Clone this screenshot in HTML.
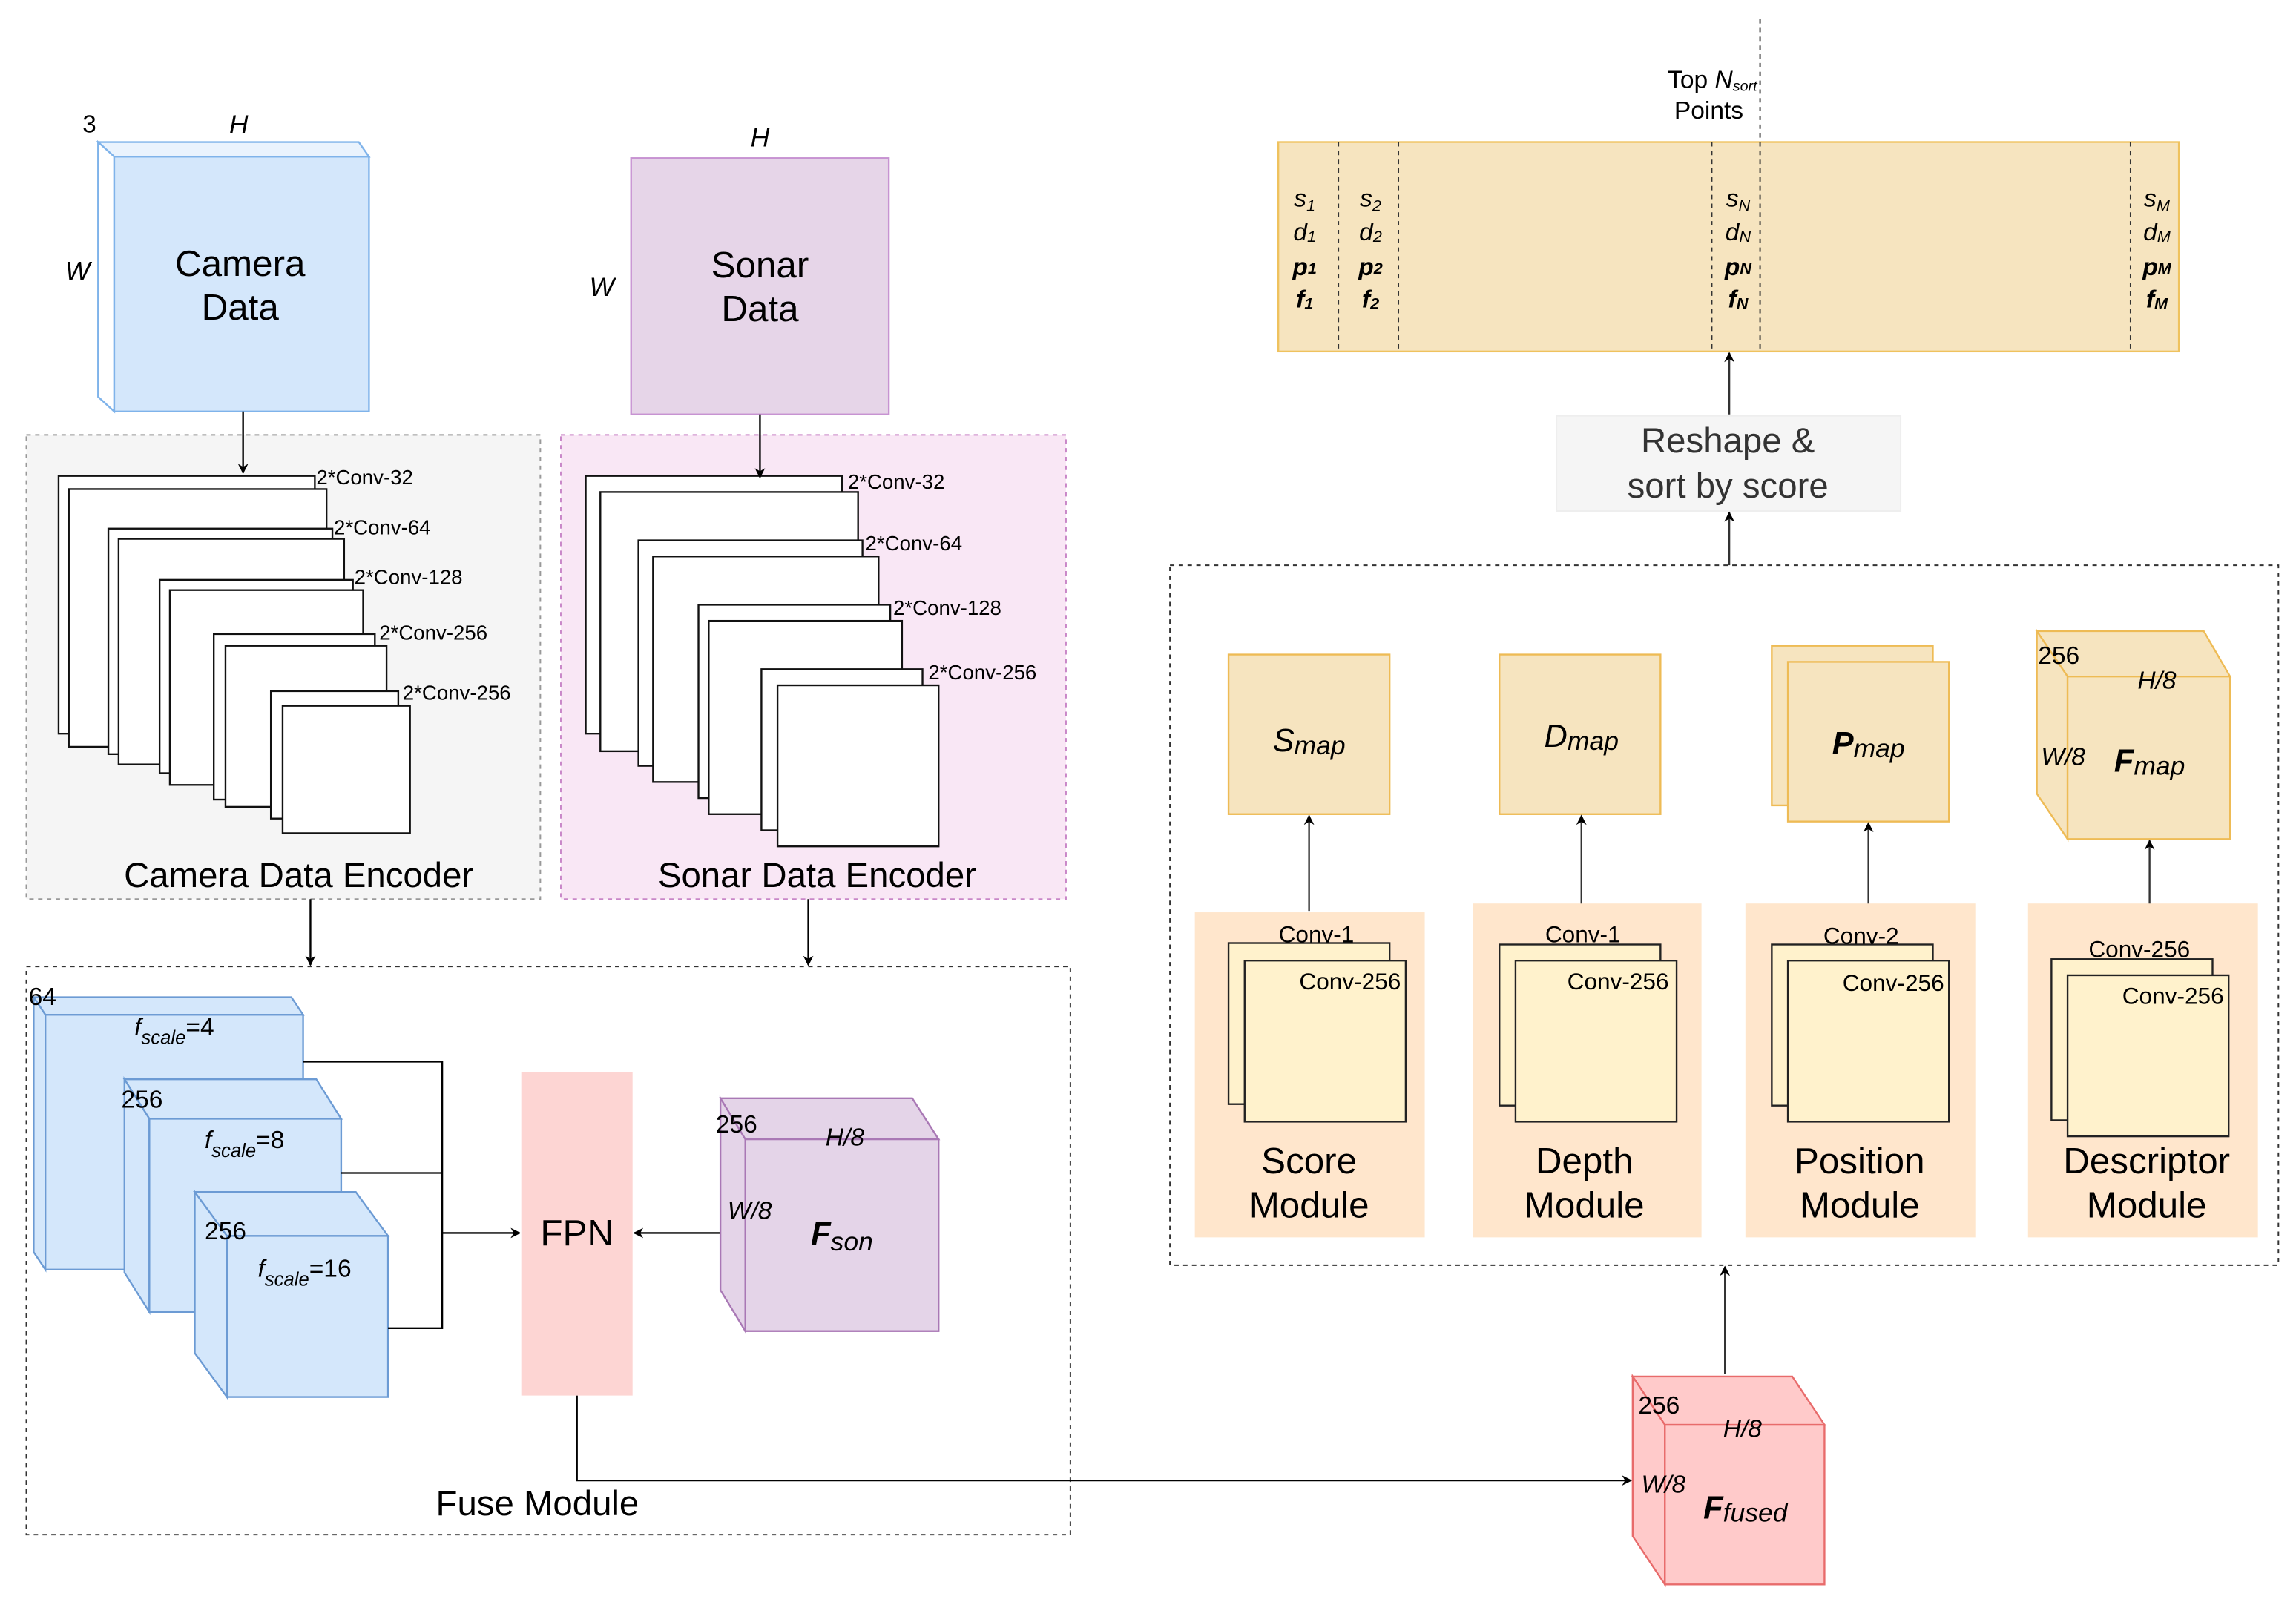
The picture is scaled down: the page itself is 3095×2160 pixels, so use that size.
<!DOCTYPE html>
<html><head><meta charset="utf-8">
<style>html,body{margin:0;padding:0;background:#fff}svg{display:block}text{font-family:"Liberation Sans",sans-serif;fill:#000}</style>
</head><body>
<svg width="3095" height="2160" viewBox="0 0 1568 1094" preserveAspectRatio="none" xmlns="http://www.w3.org/2000/svg">
<defs>
<marker id="ar" viewBox="0 0 10 10" refX="9" refY="5" markerWidth="7" markerHeight="7" orient="auto" markerUnits="userSpaceOnUse"><path d="M0,0 L10,5 L0,10 L3,5 z" fill="#000"/></marker>
</defs>
<rect width="1568" height="1094" fill="#fff"/>

<!-- Camera data cube -->
<polygon points="67,97 245,97 252,107 78,107" fill="#eaf3fd" stroke="#7fb3ea" stroke-width="1.2"/>
<polygon points="67,97 78,107 78,281 67,271" fill="#fff" stroke="#7fb3ea" stroke-width="1.2"/>
<rect x="78" y="107" width="174" height="174" fill="#d4e7fb" stroke="#7fb3ea" stroke-width="1.2"/>
<text x="61" y="85" font-size="17" text-anchor="middle" dominant-baseline="central">3</text>
<text x="163" y="85" font-size="18" font-style="italic" text-anchor="middle" dominant-baseline="central">H</text>
<text x="53" y="185" font-size="18" font-style="italic" text-anchor="middle" dominant-baseline="central">W</text>
<text x="164" y="180" font-size="25" text-anchor="middle" dominant-baseline="central">Camera</text>
<text x="164" y="210" font-size="25" text-anchor="middle" dominant-baseline="central">Data</text>

<!-- Sonar data -->
<rect x="431" y="108" width="176" height="175" fill="#e6d5e8" stroke="#c793d2" stroke-width="1.2"/>
<text x="519" y="94" font-size="18" font-style="italic" text-anchor="middle" dominant-baseline="central">H</text>
<text x="411" y="196" font-size="18" font-style="italic" text-anchor="middle" dominant-baseline="central">W</text>
<text x="519" y="181" font-size="25" text-anchor="middle" dominant-baseline="central">Sonar</text>
<text x="519" y="211" font-size="25" text-anchor="middle" dominant-baseline="central">Data</text>

<!-- Encoders -->
<rect x="18" y="297" width="351" height="317" fill="#f5f5f5" stroke="#999" stroke-dasharray="3,3"/>
<rect x="383" y="297" width="345" height="317" fill="#f9e7f5" stroke="#c987c8" stroke-dasharray="3,3"/>
<g fill="#fff" stroke="#111" stroke-width="1.2">
<rect x="40" y="325" width="175" height="176"/><rect x="47" y="334" width="176" height="176"/>
<rect x="74" y="361" width="153" height="154"/><rect x="81" y="368" width="154" height="154"/>
<rect x="109" y="396" width="132" height="132"/><rect x="116" y="403" width="132" height="133"/>
<rect x="146" y="433" width="110" height="113"/><rect x="154" y="441" width="110" height="110"/>
<rect x="185" y="472" width="87" height="87"/><rect x="193" y="482" width="87" height="87"/>
<rect x="400" y="325" width="175" height="176"/><rect x="410" y="336" width="176" height="177"/>
<rect x="436" y="369" width="153" height="154"/><rect x="446" y="380" width="154" height="154"/>
<rect x="477" y="413" width="131" height="132"/><rect x="484" y="424" width="132" height="132"/>
<rect x="520" y="457" width="110" height="110"/><rect x="531" y="468" width="110" height="110"/>
</g>
<g font-size="14" dominant-baseline="central">
<text x="216" y="326">2*Conv-32</text><text x="228" y="360">2*Conv-64</text><text x="242" y="394">2*Conv-128</text><text x="259" y="432">2*Conv-256</text><text x="275" y="473">2*Conv-256</text>
<text x="579" y="329">2*Conv-32</text><text x="591" y="371">2*Conv-64</text><text x="610" y="415">2*Conv-128</text><text x="634" y="459">2*Conv-256</text>
</g>
<text x="204" y="598" font-size="24" text-anchor="middle" dominant-baseline="central">Camera Data Encoder</text>
<text x="558" y="598" font-size="24" text-anchor="middle" dominant-baseline="central">Sonar Data Encoder</text>

<g stroke="#000" stroke-width="1.2" fill="none" marker-end="url(#ar)">
<line x1="166" y1="281" x2="166" y2="323"/>
<line x1="519" y1="283" x2="519" y2="326"/>
<line x1="212" y1="614" x2="212" y2="659"/>
<line x1="552" y1="614" x2="552" y2="659"/>
</g>

<!-- Fuse module -->
<rect x="18" y="660" width="713" height="388" fill="none" stroke="#333" stroke-dasharray="3,3"/>
<g stroke="#6c9bd4" stroke-width="1.2" fill="#d4e7fb">
<polygon points="23,681 199,681 207,693 31,693"/><polygon points="23,681 31,693 31,867 23,855"/><rect x="31" y="693" width="176" height="174"/>
<polygon points="85,737 216,737 233,764 102,764"/><polygon points="85,737 102,764 102,896 85,869"/><rect x="102" y="764" width="131" height="132"/>
<polygon points="133,814 243,814 265,844 155,844"/><polygon points="133,814 155,844 155,954 133,924"/><rect x="155" y="844" width="110" height="110"/>
</g>
<text x="29" y="681" font-size="17" text-anchor="middle" dominant-baseline="central">64</text>
<text x="97" y="751" font-size="17" text-anchor="middle" dominant-baseline="central">256</text>
<text x="154" y="841" font-size="17" text-anchor="middle" dominant-baseline="central">256</text>
<text x="119" y="707" font-size="17" text-anchor="middle"><tspan font-style="italic">f</tspan><tspan font-style="italic" font-size="13" dy="6">scale</tspan><tspan dy="-6">=4</tspan></text>
<text x="167" y="784" font-size="17" text-anchor="middle"><tspan font-style="italic">f</tspan><tspan font-style="italic" font-size="13" dy="6">scale</tspan><tspan dy="-6">=8</tspan></text>
<text x="208" y="872" font-size="17" text-anchor="middle"><tspan font-style="italic">f</tspan><tspan font-style="italic" font-size="13" dy="6">scale</tspan><tspan dy="-6">=16</tspan></text>
<g stroke="#000" stroke-width="1.2" fill="none">
<polyline points="207,725 302,725 302,907 265,907"/>
<line x1="233" y1="801" x2="302" y2="801"/>
<line x1="302" y1="842" x2="355" y2="842" marker-end="url(#ar)"/>
<line x1="492" y1="842" x2="433" y2="842" marker-end="url(#ar)"/>
<polyline points="394,953 394,1011 1114,1011" marker-end="url(#ar)"/>
</g>
<rect x="356" y="732" width="76" height="221" fill="#fdd5d3"/>
<text x="394" y="842" font-size="25" text-anchor="middle" dominant-baseline="central">FPN</text>
<g stroke="#a978b5" stroke-width="1.2" fill="#e4d4e8">
<polygon points="492,750 623,750 641,778 509,778"/><polygon points="492,750 509,778 509,909 492,881"/><rect x="509" y="778" width="132" height="131"/>
</g>
<text x="503" y="768" font-size="17" text-anchor="middle" dominant-baseline="central">256</text>
<text x="577" y="777" font-size="17" font-style="italic" text-anchor="middle" dominant-baseline="central">H/8</text>
<text x="512" y="827" font-size="17" font-style="italic" text-anchor="middle" dominant-baseline="central">W/8</text>
<text x="575" y="850" font-size="22" font-style="italic" text-anchor="middle"><tspan font-weight="bold">F</tspan><tspan font-size="18" dy="4">son</tspan></text>
<text x="367" y="1027" font-size="24" text-anchor="middle" dominant-baseline="central">Fuse Module</text>

<!-- Top strip -->
<rect x="873" y="97" width="615" height="143" fill="#f6e4bf" stroke="#efc25e" stroke-width="1.2"/>
<g stroke="#333" stroke-dasharray="3,3" stroke-width="1">
<line x1="914" y1="97" x2="914" y2="240"/><line x1="955" y1="97" x2="955" y2="240"/>
<line x1="1169" y1="97" x2="1169" y2="240"/><line x1="1202" y1="13" x2="1202" y2="240"/>
<line x1="1455" y1="97" x2="1455" y2="240"/>
</g>
<g font-size="17" font-style="italic" text-anchor="middle">
<text x="891" y="141"><tspan>s</tspan><tspan font-size="11" dy="3">1</tspan></text>
<text x="891" y="164"><tspan>d</tspan><tspan font-size="11" dy="1">1</tspan></text>
<text x="891" y="188" font-weight="bold"><tspan>p</tspan><tspan font-size="11" dy="-1">1</tspan></text>
<text x="891" y="210" font-weight="bold"><tspan>f</tspan><tspan font-size="11" dy="1">1</tspan></text>
<text x="936" y="141"><tspan>s</tspan><tspan font-size="11" dy="3">2</tspan></text>
<text x="936" y="164"><tspan>d</tspan><tspan font-size="11" dy="1">2</tspan></text>
<text x="936" y="188" font-weight="bold"><tspan>p</tspan><tspan font-size="11" dy="-1">2</tspan></text>
<text x="936" y="210" font-weight="bold"><tspan>f</tspan><tspan font-size="11" dy="1">2</tspan></text>
<text x="1187" y="141"><tspan>s</tspan><tspan font-size="11" dy="3">N</tspan></text>
<text x="1187" y="164"><tspan>d</tspan><tspan font-size="11" dy="1">N</tspan></text>
<text x="1187" y="188" font-weight="bold"><tspan>p</tspan><tspan font-size="11" dy="-1">N</tspan></text>
<text x="1187" y="210" font-weight="bold"><tspan>f</tspan><tspan font-size="11" dy="1">N</tspan></text>
<text x="1473" y="141"><tspan>s</tspan><tspan font-size="11" dy="3">M</tspan></text>
<text x="1473" y="164"><tspan>d</tspan><tspan font-size="11" dy="1">M</tspan></text>
<text x="1473" y="188" font-weight="bold"><tspan>p</tspan><tspan font-size="11" dy="-1">M</tspan></text>
<text x="1473" y="210" font-weight="bold"><tspan>f</tspan><tspan font-size="11" dy="1">M</tspan></text>
</g>
<text x="1200" y="60" font-size="17" text-anchor="end"><tspan>Top </tspan><tspan font-style="italic">N</tspan><tspan font-style="italic" font-size="10" dy="2">sort</tspan></text>
<text x="1167" y="81" font-size="17" text-anchor="middle">Points</text>

<rect x="1063" y="284" width="235" height="65" fill="#f5f5f5" stroke="#eee"/>
<text x="1180" y="301" font-size="24" fill="#333" text-anchor="middle" dominant-baseline="central" style="fill:#333">Reshape &amp;</text>
<text x="1180" y="332" font-size="24" text-anchor="middle" dominant-baseline="central" style="fill:#333">sort by score</text>
<g stroke="#333" stroke-width="1.2" fill="none" marker-end="url(#ar)">
<line x1="1181" y1="283" x2="1181" y2="241"/>
<line x1="1181" y1="386" x2="1181" y2="350"/>
<line x1="1178" y1="938" x2="1178" y2="865"/>
</g>

<!-- Big dashed box -->
<rect x="799" y="386" width="757" height="478" fill="none" stroke="#333" stroke-dasharray="3,3"/>
<g fill="#ffe6cc">
<rect x="816" y="623" width="157" height="222"/>
<rect x="1006" y="617" width="156" height="228"/>
<rect x="1192" y="617" width="157" height="228"/>
<rect x="1385" y="617" width="157" height="228"/>
</g>
<g fill="#fff2cc" stroke="#222" stroke-width="1.2">
<rect x="839" y="644" width="110" height="110"/><rect x="850" y="656" width="110" height="110"/>
<rect x="1024" y="645" width="110" height="110"/><rect x="1035" y="656" width="110" height="110"/>
<rect x="1210" y="645" width="110" height="110"/><rect x="1221" y="656" width="110" height="110"/>
<rect x="1401" y="655" width="110" height="110"/><rect x="1412" y="666" width="110" height="110"/>
</g>
<g font-size="16" text-anchor="middle" dominant-baseline="central">
<text x="899" y="638">Conv-1</text><text x="922" y="670">Conv-256</text>
<text x="1081" y="638">Conv-1</text><text x="1105" y="670">Conv-256</text>
<text x="1271" y="639">Conv-2</text><text x="1293" y="671">Conv-256</text>
<text x="1461" y="648">Conv-256</text><text x="1484" y="680">Conv-256</text>
</g>
<g font-size="25" text-anchor="middle" dominant-baseline="central">
<text x="894" y="793">Score</text><text x="894" y="823">Module</text>
<text x="1082" y="793">Depth</text><text x="1082" y="823">Module</text>
<text x="1270" y="793">Position</text><text x="1270" y="823">Module</text>
<text x="1466" y="793">Descriptor</text><text x="1466" y="823">Module</text>
</g>
<g fill="#f6e4bf" stroke="#eebb55" stroke-width="1.2">
<rect x="839" y="447" width="110" height="109"/>
<rect x="1024" y="447" width="110" height="109"/>
<rect x="1210" y="441" width="110" height="109"/><rect x="1221" y="452" width="110" height="109"/>
<polygon points="1391,431 1505,431 1523,462 1412,462"/><polygon points="1391,431 1412,462 1412,573 1391,542"/><rect x="1412" y="462" width="111" height="111"/>
</g>
<g font-size="22" font-style="italic" text-anchor="middle">
<text x="894" y="513"><tspan>S</tspan><tspan font-size="18" dy="2">map</tspan></text>
<text x="1080" y="510"><tspan>D</tspan><tspan font-size="18" dy="2">map</tspan></text>
<text x="1276" y="515" font-weight="bold"><tspan>P</tspan><tspan font-size="18" font-weight="normal" dy="2">map</tspan></text>
<text x="1468" y="527" font-weight="bold"><tspan>F</tspan><tspan font-size="18" font-weight="normal" dy="2">map</tspan></text>
</g>
<text x="1406" y="448" font-size="17" text-anchor="middle" dominant-baseline="central">256</text>
<text x="1473" y="465" font-size="17" font-style="italic" text-anchor="middle" dominant-baseline="central">H/8</text>
<text x="1409" y="517" font-size="17" font-style="italic" text-anchor="middle" dominant-baseline="central">W/8</text>
<g stroke="#333" stroke-width="1.2" fill="none" marker-end="url(#ar)">
<line x1="894" y1="622" x2="894" y2="557"/>
<line x1="1080" y1="617" x2="1080" y2="557"/>
<line x1="1276" y1="617" x2="1276" y2="562"/>
<line x1="1468" y1="617" x2="1468" y2="574"/>
</g>

<!-- Ffused -->
<g fill="#ffcaca" stroke="#e86b6b" stroke-width="1.2">
<polygon points="1115,940 1224,940 1246,973 1137,973"/><polygon points="1115,940 1137,973 1137,1082 1115,1049"/><rect x="1137" y="973" width="109" height="109"/>
</g>
<text x="1133" y="960" font-size="17" text-anchor="middle" dominant-baseline="central">256</text>
<text x="1190" y="976" font-size="17" font-style="italic" text-anchor="middle" dominant-baseline="central">H/8</text>
<text x="1136" y="1014" font-size="17" font-style="italic" text-anchor="middle" dominant-baseline="central">W/8</text>
<text x="1192" y="1037" font-size="22" font-style="italic" text-anchor="middle"><tspan font-weight="bold">F</tspan><tspan font-size="18" dy="2">fused</tspan></text>
</svg>
</body></html>
